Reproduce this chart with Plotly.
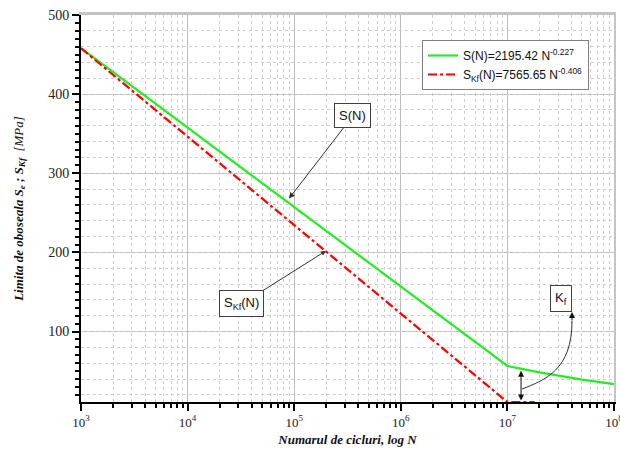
import plotly.graph_objects as go

# ---- data ----
N_s = [1e3, 1e7, 2e7, 5e7, 1e8]
S_s = [458, 56.6, 48.4, 39.3, 33.5]
N_kf = [1e3, 1e7, 1.8e7]
S_kf = [458, 11, 11]

x_tickvals = [1e3, 1e4, 1e5, 1e6, 1e7, 1e8]
x_ticktext = ["10<sup>3</sup>", "10<sup>4</sup>", "10<sup>5</sup>",
              "10<sup>6</sup>", "10<sup>7</sup>", "10<sup>8</sup>"]
y_tickvals = [100, 200, 300, 400, 500]

YMIN, YMAX = 11, 500
SERIF = "Liberation Serif"
SANS = "Liberation Sans"

fig = go.Figure()
fig.add_trace(go.Scatter(
    x=N_s, y=S_s, mode="lines",
    name="S(N)=2195.42 N<sup>-0.227</sup>",
    line=dict(color="#22ee22", width=2.2)))
fig.add_trace(go.Scatter(
    x=N_kf, y=S_kf, mode="lines",
    name="S<sub>Kf</sub>(N)=7565.65 N<sup>-0.406</sup>",
    line=dict(color="#ff0000", width=2.2, dash="dashdot")))

# plot-area helpers (domain coordinates from pixel positions)
L, R, T, B = 81, 614, 15, 402
def xd(px):
    return (px - L) / (R - L)
def yd(py):
    return (B - py) / (B - T)

fig.update_layout(
    width=620, height=455,
    margin=dict(l=L, r=620 - R, t=T, b=455 - B, autoexpand=False),
    paper_bgcolor="white", plot_bgcolor="white",
    showlegend=True,
    legend=dict(x=xd(422), y=yd(40), xanchor="left", yanchor="top",
                bgcolor="white", bordercolor="#808080", borderwidth=1,
                font=dict(family=SANS, size=12, color="#111"),
                itemwidth=30, tracegroupgap=0),
    xaxis=dict(type="log", range=[3, 8],
               tickvals=x_tickvals, ticktext=x_ticktext,
               ticklabeloverflow="allow",
               ticks="outside", ticklen=7, tickwidth=1.5, tickcolor="black",
               showline=True, linecolor="black", linewidth=2,
               showgrid=True, gridcolor="#bdbdbd", gridwidth=1,
               tickfont=dict(family=SERIF, size=13, color="#222"),
               minor=dict(dtick="D1", ticks="outside", ticklen=4,
                          tickwidth=1.5, tickcolor="black",
                          showgrid=True, gridcolor="#cfcfcf",
                          griddash="dot", gridwidth=1),
               title=dict(text="<b><i>Numarul de cicluri, log N</i></b>",
                          font=dict(family=SERIF, size=13, color="#111"),
                          standoff=6),
               automargin=False, zeroline=False),
    yaxis=dict(range=[YMIN, YMAX],
               tickvals=y_tickvals,
               ticks="outside", ticklen=7, tickwidth=1.5, tickcolor="black",
               showline=True, linecolor="black", linewidth=2,
               showgrid=True, gridcolor="#bdbdbd", gridwidth=1,
               tickfont=dict(family=SERIF, size=14, color="#222"),
               minor=dict(dtick=10, tick0=0, ticks="outside", ticklen=4,
                          tickwidth=1.5, tickcolor="black", showgrid=False),
               title=dict(text="<b><i>Limita de oboseala S<sub>e</sub> ; S<sub>Kf</sub></i></b>  <i>[MPa]</i>",
                          font=dict(family=SERIF, size=13, color="#111"),
                          standoff=22),
               automargin=False, zeroline=False),
    xaxis2=dict(type="log", range=[3, 8], overlaying="x", side="top",
                showline=True, linecolor="#c4c4c4", linewidth=3,
                ticks="", showticklabels=False, showgrid=False, zeroline=False),
    yaxis2=dict(range=[YMIN, YMAX], overlaying="y", side="right",
                showline=True, linecolor="#c4c4c4", linewidth=2,
                ticks="", showticklabels=False,
                dtick=20, tick0=0, showgrid=True, gridcolor="#cfcfcf",
                griddash="dot", gridwidth=1, zeroline=False),
)

# helper trace so the overlay axes exist
fig.add_trace(go.Scatter(x=[None], y=[None], xaxis="x2", yaxis="y2",
                         showlegend=False, hoverinfo="skip"))

box = dict(bgcolor="white", bordercolor="#404040", borderwidth=1,
           borderpad=4, font=dict(family=SANS, size=13, color="#111"))

# S(N) label with arrow
fig.add_annotation(x=4.951, y=268, xref="x", yref="y",
                   text="S(N)", showarrow=True, ax=64, ay=-83,
                   arrowhead=2, arrowsize=1.2, arrowwidth=1,
                   arrowcolor="#333", **box)
# S_Kf(N) label with arrow
fig.add_annotation(x=5.298, y=202, xref="x", yref="y",
                   text="S<sub>Kf</sub>(N)", showarrow=True, ax=-84, ay=53,
                   arrowhead=2, arrowsize=1.0, arrowwidth=1,
                   arrowcolor="#333", **box)
# Kf label
fig.add_annotation(x=xd(572), y=yd(312), xref="x domain", yref="y domain",
                   text="K<sub>f</sub>", showarrow=False, **box)

# double arrow (gap between curves)
fig.add_annotation(x=7.128, y=50.5, xref="x", yref="y",
                   ax=7.128, ay=YMIN, axref="x", ayref="y",
                   text="", showarrow=True, arrowside="end+start",
                   arrowhead=2, arrowsize=1.2, arrowwidth=1,
                   arrowcolor="#111", standoff=0, startstandoff=0)

# curved arrow to Kf box
fig.add_shape(type="path", xref="x domain", yref="y domain",
              path=(f"M {xd(522)} {yd(389)} C {xd(545)} {yd(380)}, "
                    f"{xd(572)} {yd(370)}, {xd(572)} {yd(321)}"),
              line=dict(color="#333", width=1))
fig.add_annotation(x=xd(572), y=yd(312), xref="x domain", yref="y domain",
                   ax=0, ay=10, text="", showarrow=True,
                   arrowhead=2, arrowsize=1.2, arrowwidth=1,
                   arrowcolor="#111", standoff=0)

fig.write_html("out.html",
               config={"displayModeBar": False},
               post_script="document.body.style.margin='0';"
                           "document.body.style.padding='0';")
